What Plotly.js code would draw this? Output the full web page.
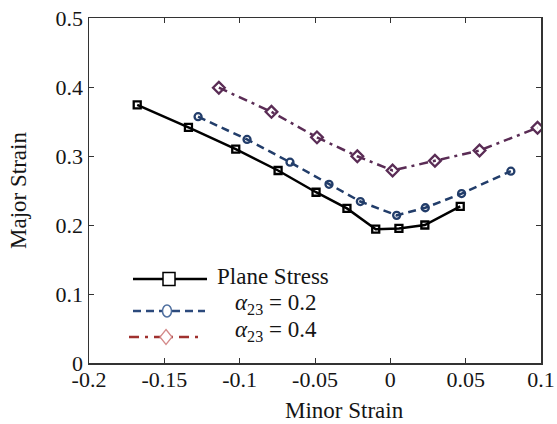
<!DOCTYPE html>
<html>
<head>
<meta charset="utf-8">
<script src="https://cdn.plot.ly/plotly-3.0.1.min.js"></script>
<style>
  html, body { margin: 0; padding: 0; background: #ffffff; }
  #chart { width: 557px; height: 424px; }
</style>
</head>
<body>
<div id="chart"></div>
<script>
// Forming limit curves: major strain vs. minor strain
const minorPlane = [-0.168, -0.134, -0.1026, -0.0745, -0.0493, -0.0288, -0.0097, 0.0057, 0.0229, 0.0464];
const majorPlane = [0.374, 0.3415, 0.310, 0.279, 0.2475, 0.224, 0.194, 0.195, 0.200, 0.227];

const minorA02 = [-0.1276, -0.0951, -0.0666, -0.0407, -0.0199, 0.0042, 0.0232, 0.0473, 0.080];
const majorA02 = [0.357, 0.324, 0.291, 0.259, 0.234, 0.214, 0.225, 0.2456, 0.278];

const minorA04 = [-0.1138, -0.0789, -0.0487, -0.0219, 0.0015, 0.0296, 0.0592, 0.0977];
const majorA04 = [0.399, 0.364, 0.327, 0.2996, 0.279, 0.293, 0.308, 0.341];

const seriesNames = ['Plane Stress', '<i>α</i><sub>23</sub> = 0.2', '<i>α</i><sub>23</sub> = 0.4'];

const xTickVals = [-0.2, -0.15, -0.1, -0.05, 0, 0.05, 0.1];
const xTickText = ['-0.2', '-0.15', '-0.1', '-0.05', '0', '0.05', '0.1'];
const yTickVals = [0, 0.1, 0.2, 0.3, 0.4, 0.5];
const yTickText = ['0', '0.1', '0.2', '0.3', '0.4', '0.5'];

const W = 557, H = 424;
const M = { l: 89, r: 16, t: 18, b: 61 };
const PW = W - M.l - M.r, PH = H - M.t - M.b;
// pixel -> paper coordinates
const px = x => (x - M.l) / PW;
const py = y => (H - M.b - y) / PH;

const FONT = 'Liberation Serif, Times New Roman, serif';
const TXT = '#151515';

const traces = [
  {
    x: minorPlane, y: majorPlane, mode: 'lines+markers', name: seriesNames[0],
    line: { color: '#000000', width: 2.5 },
    marker: { symbol: 'square-open', size: 7, color: '#000000', line: { width: 2.3 } },
    showlegend: false
  },
  {
    x: minorA02, y: majorA02, mode: 'lines+markers', name: seriesNames[1],
    line: { color: '#223d6a', width: 2.5, dash: '8px,5px' },
    marker: { symbol: 'circle-open', size: 7, color: '#223d6a', line: { width: 2.3 } },
    showlegend: false
  },
  {
    x: minorA04, y: majorA04, mode: 'lines+markers', name: seriesNames[2],
    line: { color: '#5a2c55', width: 2.5, dash: '9px,5px,3px,5px' },
    marker: { symbol: 'diamond-open', size: 9, color: '#5a2c55', line: { width: 2.3 } },
    showlegend: false
  }
];

// Hand-built legend keys
function hline(x0, x1, y, color, width, dash) {
  return { type: 'line', xref: 'paper', yref: 'paper', x0: px(x0), x1: px(x1), y0: py(y), y1: py(y),
           line: { color: color, width: width, dash: dash || 'solid' } };
}
function boxShape(cx, cy, w, h, color, lw) {
  return { type: 'rect', xref: 'paper', yref: 'paper',
           x0: px(cx - w / 2), x1: px(cx + w / 2), y0: py(cy + h / 2), y1: py(cy - h / 2),
           fillcolor: '#ffffff', line: { color: color, width: lw } };
}
function ovalShape(cx, cy, w, h, color, lw) {
  return { type: 'circle', xref: 'paper', yref: 'paper',
           x0: px(cx - w / 2), x1: px(cx + w / 2), y0: py(cy + h / 2), y1: py(cy - h / 2),
           fillcolor: '#ffffff', line: { color: color, width: lw } };
}
function diamondShape(cx, cy, w, h, color, lw) {
  const p = (x, y) => px(x) + ',' + py(y);
  return { type: 'path', xref: 'paper', yref: 'paper',
           path: 'M' + p(cx, cy - h / 2) + ' L' + p(cx + w / 2, cy) + ' L' + p(cx, cy + h / 2) +
                 ' L' + p(cx - w / 2, cy) + ' Z',
           fillcolor: '#ffffff', line: { color: color, width: lw } };
}

const shapes = [
  hline(133, 207, 279, '#000000', 2.5),
  boxShape(169, 279, 12, 13, '#000000', 1.5),
  hline(133, 205, 311, '#2c4a7c', 2.5, '8px,5px'),
  ovalShape(167, 311, 9, 12, '#4f6f9f', 1.5),
  hline(129, 199, 337, '#a0312f', 2.5, '10px,6px,3px,6px'),
  diamondShape(166, 337, 12, 15, '#d48a8a', 1.3)
];

const annotations = [
  { text: seriesNames[0], xref: 'paper', yref: 'paper', x: px(215), y: py(276),
    xanchor: 'left', yanchor: 'middle', showarrow: false, font: { family: FONT, size: 23, color: TXT } },
  { text: seriesNames[1], xref: 'paper', yref: 'paper', x: px(233), y: py(304),
    xanchor: 'left', yanchor: 'middle', showarrow: false, font: { family: FONT, size: 23, color: TXT } },
  { text: seriesNames[2], xref: 'paper', yref: 'paper', x: px(233), y: py(331),
    xanchor: 'left', yanchor: 'middle', showarrow: false, font: { family: FONT, size: 23, color: TXT } },
  { text: 'Minor Strain', xref: 'paper', yref: 'paper', x: px(344), y: py(410),
    xanchor: 'center', yanchor: 'middle', showarrow: false, font: { family: FONT, size: 23, color: TXT } }
];

const axisCommon = {
  showgrid: false, zeroline: false, showline: true, linecolor: '#333333', linewidth: 1.5,
  mirror: 'ticks', ticks: 'inside', ticklen: 5, tickwidth: 1, tickcolor: '#333333',
  tickfont: { family: FONT, size: 22, color: TXT }
};

const layout = {
  width: W, height: H, margin: M,
  paper_bgcolor: '#ffffff', plot_bgcolor: '#ffffff',
  font: { family: FONT, size: 22, color: TXT },
  showlegend: false,
  xaxis: Object.assign({}, axisCommon, {
    range: [-0.2, 0.1], tickmode: 'array', tickvals: xTickVals, ticktext: xTickText,
    ticklabelstandoff: -4
  }),
  yaxis: Object.assign({}, axisCommon, {
    range: [0, 0.5], tickmode: 'array', tickvals: yTickVals, ticktext: yTickText,
    title: { text: 'Major Strain', font: { family: FONT, size: 23, color: TXT }, standoff: 22 }
  }),
  shapes: shapes,
  annotations: annotations
};

Plotly.newPlot('chart', traces, layout, { displayModeBar: false, staticPlot: true });
</script>
</body>
</html>
